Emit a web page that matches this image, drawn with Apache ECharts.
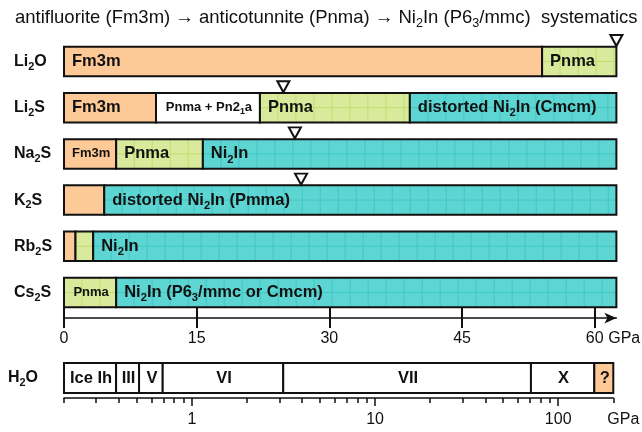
<!DOCTYPE html>
<html>
<head>
<meta charset="utf-8">
<script src="https://cdn.jsdelivr.net/npm/echarts@6/dist/echarts.min.js"></script>
<style>
html, body { margin: 0; padding: 0; background: #fff; }
#chart { width: 642px; height: 432px; }
</style>
</head>
<body>
<div id="chart"></div>
<script>
// Compounds (rows, top to bottom). "_d" marks a subscript digit.
const compounds = ['Li_2O', 'Li_2S', 'Na_2S', 'K_2S', 'Rb_2S', 'Cs_2S'];

// Phase fields: row index, lower / upper pressure bound (GPa), structure kind, label
const segRow   = [0, 0,   1, 1, 1, 1,   2, 2, 2,   3, 3,   4, 4, 4,   5, 5];
const segFrom  = [0, 54.05,   0, 10.4, 22.15, 39.1,   0, 5.9, 15.7,   0, 4.55,   0, 1.3, 3.3,   0, 5.9];
const segTo    = [54.05, 62.45,   10.4, 22.15, 39.1, 62.45,   5.9, 15.7, 62.45,   4.55, 62.45,   1.3, 3.3, 62.45,   5.9, 62.45];
const segKind  = ['F', 'P',   'F', 'M', 'P', 'N',   'F', 'P', 'N',   'F', 'N',   'F', 'P', 'N',   'P', 'N'];
const segLabel = ['Fm3m', 'Pnma',
                  'Fm3m', 'Pnma + Pn2_1a', 'Pnma', 'distorted Ni_2In (Cmcm)',
                  'Fm3m', 'Pnma', 'Ni_2In',
                  '', 'distorted Ni_2In (Pmma)',
                  '', '', 'Ni_2In',
                  'Pnma', 'Ni_2In (P6_3/mmc or Cmcm)'];

// Open triangles above the bars (pressure in GPa)
const markRow = [0, 1, 2, 3];
const markP   = [62.45, 24.8, 26.1, 26.8];

const linTicks = [0, 15, 30, 45, 60];

// Water ice phases on the logarithmic pressure scale (GPa)
const h2oRow   = ['H_2O'];
const h2oFrom  = [0.2, 0.385, 0.514, 0.692, 3.15, 71, 157.5];
const h2oTo    = [0.385, 0.514, 0.692, 3.15, 71, 157.5, 200];
const h2oKind  = ['W', 'W', 'W', 'W', 'W', 'W', 'F'];
const h2oLabel = ['Ice Ih', 'III', 'V', 'VI', 'VII', 'X', '?'];
const logMajor = [1, 10, 100];
const logMinor = [0.2, 0.3, 0.4, 0.5, 0.6, 0.7, 0.8, 0.9, 2, 3, 4, 5, 6, 7, 8, 9,
                  20, 30, 40, 50, 60, 70, 80, 90, 200];

const FONT = 'Liberation Sans, Arial, Helvetica, sans-serif';
const INK = '#111';
const FILL = { F: '#fcc997', P: '#d9ea9c', N: '#5dd5d2', M: '#ffffff', W: '#ffffff' };
const GRIDLINE = { P: '#c1dd6c', N: '#40c8c5' };
const CELL = 18;
const BIG = 16.5, SMALL = 13;

const measureCtx = document.createElement('canvas').getContext('2d');
function textWidth(s, size) {
  let w = 0;
  s.split(/(_\d)/).forEach(function (part) {
    if (!part) return;
    if (part[0] === '_') {
      measureCtx.font = 'bold ' + (size * 0.68) + 'px ' + FONT;
      w += measureCtx.measureText(part.slice(1)).width;
    } else {
      measureCtx.font = 'bold ' + size + 'px ' + FONT;
      w += measureCtx.measureText(part).width;
    }
  });
  return w;
}
function sub(s) { return s.replace(/_(\d)/g, '{s|$1}'); }
function subRich(size, weight) {
  return { s: { fontSize: size * 0.68, fontWeight: weight, fontFamily: FONT, color: INK, fill: INK,
                verticalAlign: 'bottom', lineHeight: size * 0.68 } };
}

function phaseRenderer(kinds, labels, barH, centred) {
  return function (params, api) {
    const i = params.dataIndex;
    const row = api.value(2);
    const a = api.coord([api.value(0), row]);
    const b = api.coord([api.value(1), row]);
    const x0 = a[0], x1 = b[0], yc = a[1], y0 = yc - barH / 2, w = x1 - x0;
    const k = kinds[i];
    const children = [{ type: 'rect', shape: { x: x0, y: y0, width: w, height: barH },
                        style: { fill: FILL[k] } }];
    if (GRIDLINE[k]) {
      for (let x = x0 + CELL; x < x1 - 2; x += CELL) {
        children.push({ type: 'line', shape: { x1: x, y1: y0, x2: x, y2: y0 + barH },
                        style: { stroke: GRIDLINE[k], lineWidth: 1 } });
      }
      children.push({ type: 'line', shape: { x1: x0, y1: yc, x2: x1, y2: yc },
                      style: { stroke: GRIDLINE[k], lineWidth: 1 } });
    }
    children.push({ type: 'rect', shape: { x: x0, y: y0, width: w, height: barH },
                    style: { fill: 'none', stroke: INK, lineWidth: 2 } });
    const lab = labels[i];
    if (lab) {
      let size = BIG, centre = centred;
      if (!centred && textWidth(lab, BIG) > w - 16) { size = SMALL; centre = true; }
      children.push({
        type: 'text',
        style: {
          text: sub(lab), x: centre ? (x0 + x1) / 2 + 1 : x0 + 8, y: yc,
          align: centre ? 'center' : 'left', verticalAlign: 'middle',
          fontSize: size, fontWeight: 'bold', fontFamily: FONT, fill: INK,
          lineHeight: size * 1.34, rich: subRich(size, 'bold')
        }
      });
    }
    return { type: 'group', children: children };
  };
}

const chart = echarts.init(document.getElementById('chart'), null, { renderer: 'canvas' });

const G0 = { left: 64, top: 38.4, width: 552.4, height: 277.2 };
const G1 = { left: 64, top: 358, width: 549.3, height: 40 };
const AX_OFF = 2.5;

const catLabel = {
  formatter: sub, align: 'left', fontSize: 16, fontWeight: 'bold', fontFamily: FONT,
  color: INK, lineHeight: 21.5, rich: subRich(16, 'bold')
};

chart.setOption({
  animation: false,
  backgroundColor: '#fff',
  title: {
    text: 'antifluorite (Fm3m) \u2192 anticotunnite (Pnma) \u2192 Ni{s|2}In (P6{s|3}/mmc)  systematics',
    left: 10, top: 1,
    textStyle: { fontSize: 18.5, fontWeight: 'normal', fontFamily: FONT, color: INK, lineHeight: 24,
                 rich: subRich(18.5, 'normal') }
  },
  grid: [
    Object.assign({ containLabel: false }, G0),
    Object.assign({ containLabel: false }, G1)
  ],
  xAxis: [
    { // pressure axis line with arrow and upward tick halves
      type: 'value', gridIndex: 0, min: 0, max: 62.45, position: 'bottom', offset: AX_OFF,
      axisLine: { show: true, lineStyle: { color: INK, width: 1.5 },
                  symbol: ['none', 'arrow'], symbolSize: [8, 12], symbolOffset: [0, 0] },
      axisTick: { show: true, inside: true, length: 11, customValues: linTicks,
                  lineStyle: { color: INK, width: 2 } },
      axisLabel: { show: false }, splitLine: { show: false }
    },
    { // downward tick halves and tick labels
      type: 'value', gridIndex: 0, min: 0, max: 62.45, position: 'bottom', offset: AX_OFF,
      axisLine: { show: false },
      axisTick: { show: true, inside: false, length: 10, customValues: linTicks,
                  lineStyle: { color: INK, width: 2 } },
      axisLabel: { show: true, customValues: linTicks, margin: 12, fontSize: 16,
                   fontFamily: FONT, color: INK },
      splitLine: { show: false }
    },
    { // logarithmic axis for water: decades
      type: 'log', logBase: 10, gridIndex: 1, min: 0.2, max: 200, position: 'bottom',
      axisLine: { show: true, lineStyle: { color: INK, width: 1.5 } },
      axisTick: { show: true, length: 8, customValues: logMajor, lineStyle: { color: INK, width: 1.5 } },
      axisLabel: { show: true, customValues: logMajor, margin: 14, fontSize: 16,
                   fontFamily: FONT, color: INK },
      splitLine: { show: false }
    },
    { // logarithmic axis: minor ticks
      type: 'log', logBase: 10, gridIndex: 1, min: 0.2, max: 200, position: 'bottom',
      axisLine: { show: false },
      axisTick: { show: true, length: 5, customValues: logMinor, lineStyle: { color: INK, width: 1.5 } },
      axisLabel: { show: false }, splitLine: { show: false }
    }
  ],
  yAxis: [
    { type: 'category', gridIndex: 0, data: compounds, inverse: true,
      axisLine: { show: false }, axisTick: { show: false },
      axisLabel: Object.assign({ margin: 50 }, catLabel) },
    { type: 'category', gridIndex: 1, data: h2oRow,
      axisLine: { show: false }, axisTick: { show: false },
      axisLabel: Object.assign({ margin: 56 }, catLabel) }
  ],
  series: [
    {
      type: 'custom', name: 'phases', xAxisIndex: 0, yAxisIndex: 0,
      encode: { x: [0, 1], y: 2 },
      data: segFrom.map(function (f, i) { return [f, segTo[i], segRow[i]]; }),
      renderItem: phaseRenderer(segKind, segLabel, 29.5, false), z: 2
    },
    {
      type: 'scatter', name: 'markers', xAxisIndex: 0, yAxisIndex: 0,
      data: markP.map(function (p, i) { return [p, markRow[i]]; }),
      symbol: 'triangle', symbolRotate: 180, symbolSize: [12, 11], symbolOffset: [0, -21],
      itemStyle: { color: '#fff', borderColor: INK, borderWidth: 2, opacity: 1 }, z: 5
    },
    {
      type: 'custom', name: 'ice', xAxisIndex: 2, yAxisIndex: 1,
      encode: { x: [0, 1], y: 2 },
      data: h2oFrom.map(function (f, i) { return [f, h2oTo[i], 0]; }),
      renderItem: phaseRenderer(h2oKind, h2oLabel, 30, true), z: 2
    }
  ]
});

// unit labels next to the last tick label of each pressure axis
const x60 = chart.convertToPixel({ xAxisIndex: 1 }, 60);
const x200 = chart.convertToPixel({ xAxisIndex: 2 }, 200);
const linAxisY = G0.top + G0.height + AX_OFF;
const logAxisY = G1.top + G1.height;
chart.setOption({
  graphic: [
    { type: 'text', left: x60 + 13.5, top: linAxisY + 12,
      style: { text: 'GPa', fontSize: 16, fontFamily: FONT, fill: INK } },
    { type: 'text', left: x200 - 6, top: logAxisY + 14,
      style: { text: 'GPa', fontSize: 16, fontFamily: FONT, fill: INK } }
  ]
});
</script>
</body>
</html>
